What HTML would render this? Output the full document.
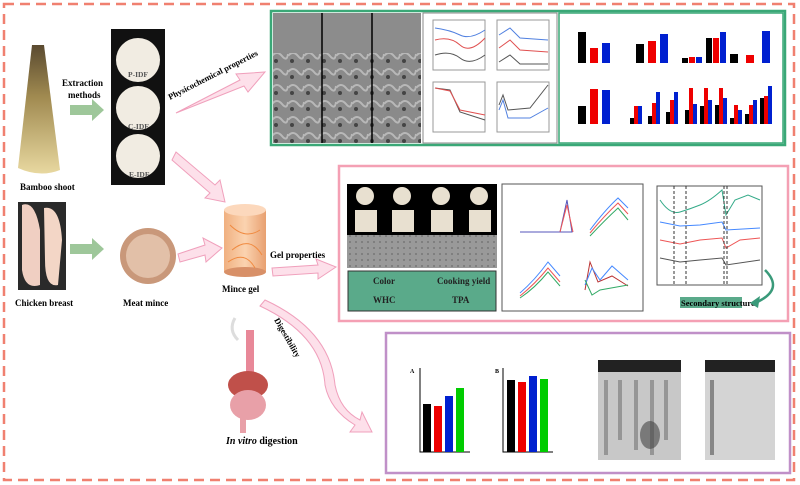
<!DOCTYPE html>
<html><head><meta charset="utf-8"><style>
html,body{margin:0;padding:0;background:#fff}
svg{display:block}
text{font-family:"Liberation Serif",serif;font-weight:bold}
</style></head><body>
<svg width="800" height="485" viewBox="0 0 800 485" xmlns="http://www.w3.org/2000/svg">
<defs>
<linearGradient id="bam" x1="0" y1="0" x2="0" y2="1"><stop offset="0" stop-color="#5a4a30"/><stop offset="0.4" stop-color="#a08a50"/><stop offset="1" stop-color="#e8d8a0"/></linearGradient>
<linearGradient id="cyl" x1="0" y1="0" x2="1" y2="0"><stop offset="0" stop-color="#f0b080"/><stop offset="0.5" stop-color="#fbd3b0"/><stop offset="1" stop-color="#e8a070"/></linearGradient>
<pattern id="sem" width="16" height="16" patternUnits="userSpaceOnUse"><rect width="16" height="16" fill="#8a8a8a"/><path d="M0 8 Q5 2 10 8 T16 6" stroke="#b8b8b8" stroke-width="2" fill="none"/><circle cx="4" cy="13" r="2" fill="#444"/></pattern>
<pattern id="sem2" width="6" height="6" patternUnits="userSpaceOnUse"><rect width="6" height="6" fill="#999"/><circle cx="2" cy="2" r="1" fill="#777"/></pattern>
</defs>
<rect x="4" y="4" width="790" height="476" fill="none" stroke="#f08070" stroke-width="2.5" stroke-dasharray="10,6"/>

<!-- bamboo -->
<path d="M32 45 L44 45 L60 170 Q40 178 18 168 Z" fill="url(#bam)"/>
<text x="20" y="190" font-size="9">Bamboo shoot</text>
<text x="62" y="86" font-size="9">Extraction</text>
<text x="68" y="98" font-size="9">methods</text>
<path d="M70 105 H92 V99 L104 110 L92 121 V115 H70Z" fill="#9ec79a"/>
<!-- IDF column -->
<rect x="111" y="29" width="54" height="156" fill="#111"/>
<g fill="#f1ece2"><circle cx="138" cy="60" r="22"/><circle cx="138" cy="108" r="22"/><circle cx="138" cy="156" r="22"/></g>
<g font-size="7.5" fill="#555" font-weight="normal"><text x="128" y="77">P-IDF</text><text x="128" y="129">C-IDF</text><text x="129" y="177">E-IDF</text></g>
<!-- physico arrow -->
<path d="M176 113 L240 80 L236 74 L265 72 L248 92 L244 86 Z" fill="#fde0ea" stroke="#f0a0bc"/>
<text x="170" y="100" font-size="8.5" transform="rotate(-27 170 100)">Physicochemical properties</text>
<path d="M176 152 L215 185 L220 180 L225 202 L205 198 L210 193 L172 160Z" fill="#fde0ea" stroke="#f0a0bc"/>
<!-- chicken -->
<rect x="18" y="202" width="48" height="88" fill="#2a2a2a"/>
<path d="M22 205 Q35 200 40 230 L40 285 Q25 290 22 270Z" fill="#f0cfc2"/>
<path d="M44 208 Q60 205 62 240 L58 285 Q45 288 45 260Z" fill="#f3d6c6"/>
<text x="15" y="306" font-size="9">Chicken breast</text>
<path d="M70 244 H92 V238 L104 249 L92 260 V254 H70Z" fill="#9ec79a"/>
<circle cx="148" cy="256" r="28" fill="#c9987a"/><circle cx="148" cy="256" r="22" fill="#e2c0a8"/>
<text x="123" y="306" font-size="9">Meat mince</text>
<path d="M178 254 L205 245 L203 238 L222 248 L206 262 L205 255 L180 262Z" fill="#fde0ea" stroke="#f0a0bc"/>
<!-- mince gel -->
<rect x="224" y="210" width="42" height="62" fill="url(#cyl)"/>
<ellipse cx="245" cy="210" rx="21" ry="6" fill="#fcd8bc"/>
<ellipse cx="245" cy="272" rx="21" ry="5" fill="#d89068"/>
<path d="M230 225 Q245 240 260 230 M232 250 Q250 235 262 255 M228 262 Q245 250 255 268" stroke="#f08a40" fill="none"/>
<text x="222" y="292" font-size="9">Mince gel</text>
<text x="270" y="258" font-size="9">Gel properties</text>
<path d="M272 268 L318 265 L316 259 L336 267 L318 279 L318 273 L273 276Z" fill="#fde0ea" stroke="#f0a0bc"/>
<!-- digestibility arrow -->
<path d="M265 300 Q330 330 335 385 Q340 410 360 420 L362 412 L372 432 L350 432 L355 425 Q330 410 325 385 Q322 335 260 306Z" fill="#fde0ea" stroke="#f0a0bc"/>
<text x="274" y="320" font-size="8.5" transform="rotate(60 274 320)">Digestibility</text>
<!-- digestive system -->
<path d="M235 318 Q228 330 238 340" stroke="#ddd" stroke-width="3" fill="none"/>
<rect x="246" y="330" width="8" height="45" fill="#e88898"/>
<ellipse cx="248" cy="385" rx="20" ry="14" fill="#c0504a"/>
<ellipse cx="248" cy="405" rx="18" ry="15" fill="#e8a0a8"/>
<rect x="240" y="418" width="6" height="15" fill="#e8a0a8"/>
<text x="226" y="444" font-size="10"><tspan font-style="italic">In vitro</tspan> digestion</text>

<!-- GREEN BOX -->
<rect x="271" y="11" width="514" height="134" fill="#fff" stroke="#3aa877" stroke-width="2.5"/>
<rect x="273" y="13" width="148" height="130" fill="url(#sem)"/>
<rect x="273" y="13" width="148" height="40" fill="#8c8c8c"/>
<line x1="322" y1="13" x2="322" y2="143" stroke="#000" stroke-width="1.5"/>
<line x1="372" y1="13" x2="372" y2="143" stroke="#000" stroke-width="1.5"/>
<rect x="423" y="13" width="134" height="130" fill="#fff" stroke="#888"/>
<g fill="none" stroke-width="1">
<rect x="433" y="20" width="52" height="50" stroke="#999"/><rect x="497" y="20" width="52" height="50" stroke="#999"/>
<rect x="433" y="82" width="52" height="50" stroke="#999"/><rect x="497" y="82" width="52" height="50" stroke="#999"/>
<path d="M435 28 Q450 30 460 35 T485 30" stroke="#5080e0"/><path d="M435 40 Q450 36 460 45 T485 38" stroke="#e05050"/><path d="M435 55 Q450 50 460 58 T485 55" stroke="#555"/>
<path d="M499 35 L510 28 L520 38 L548 40" stroke="#5080e0"/><path d="M499 48 L510 40 L520 50 L548 52" stroke="#e05050"/><path d="M499 62 L510 55 L520 64 L548 64" stroke="#555"/>
<path d="M435 88 L450 90 L460 112 L485 120" stroke="#555"/><path d="M435 88 L450 91 L460 110 L485 115" stroke="#e05050"/>
<path d="M499 105 L503 95 L508 110 L530 108 L548 85" stroke="#555"/><path d="M499 110 L503 100 L508 118 L530 118 L548 108" stroke="#5080e0"/>
</g>
<rect x="559" y="13" width="224" height="130" fill="#fff" stroke="#3aa877" stroke-width="1.5"/>
<g>
<rect x="578" y="32" width="8" height="31" fill="#000"/><rect x="590" y="48" width="8" height="15" fill="#e00"/><rect x="602" y="43" width="8" height="20" fill="#0020d0"/>
<rect x="636" y="44" width="8" height="19" fill="#000"/><rect x="648" y="41" width="8" height="22" fill="#e00"/><rect x="660" y="34" width="8" height="29" fill="#0020d0"/>
<rect x="682" y="58" width="6" height="5" fill="#000"/><rect x="689" y="57" width="6" height="6" fill="#e00"/><rect x="696" y="57" width="6" height="6" fill="#0020d0"/><rect x="706" y="38" width="6" height="25" fill="#000"/><rect x="713" y="38" width="6" height="25" fill="#e00"/><rect x="720" y="32" width="6" height="31" fill="#0020d0"/>
<rect x="730" y="54" width="8" height="9" fill="#000"/><rect x="746" y="55" width="8" height="8" fill="#e00"/><rect x="762" y="31" width="8" height="32" fill="#0020d0"/>
<rect x="578" y="106" width="8" height="18" fill="#000"/><rect x="590" y="89" width="8" height="35" fill="#e00"/><rect x="602" y="90" width="8" height="34" fill="#0020d0"/>
<g fill="#000"><rect x="630" y="118" width="4" height="6"/><rect x="648" y="116" width="4" height="8"/><rect x="666" y="112" width="4" height="12"/><rect x="685" y="110" width="4" height="14"/><rect x="700" y="106" width="4" height="18"/><rect x="715" y="105" width="4" height="19"/><rect x="730" y="118" width="4" height="6"/><rect x="745" y="114" width="4" height="10"/><rect x="760" y="98" width="4" height="26"/></g>
<g fill="#e00"><rect x="634" y="106" width="4" height="18"/><rect x="652" y="103" width="4" height="21"/><rect x="670" y="100" width="4" height="24"/><rect x="689" y="88" width="4" height="36"/><rect x="704" y="88" width="4" height="36"/><rect x="719" y="88" width="4" height="36"/><rect x="734" y="105" width="4" height="19"/><rect x="749" y="105" width="4" height="19"/><rect x="764" y="96" width="4" height="28"/></g>
<g fill="#0020d0"><rect x="638" y="106" width="4" height="18"/><rect x="656" y="92" width="4" height="32"/><rect x="674" y="92" width="4" height="32"/><rect x="693" y="104" width="4" height="20"/><rect x="708" y="100" width="4" height="24"/><rect x="723" y="98" width="4" height="26"/><rect x="738" y="110" width="4" height="14"/><rect x="753" y="100" width="4" height="24"/><rect x="768" y="86" width="4" height="38"/></g>
</g>

<!-- PINK BOX -->
<rect x="339" y="166" width="449" height="155" fill="#fff" stroke="#f4a0b4" stroke-width="2.5"/>
<rect x="347" y="184" width="150" height="51" fill="#000"/>
<g fill="#e8e0d0"><circle cx="365" cy="196" r="9"/><circle cx="402" cy="196" r="9"/><circle cx="441" cy="196" r="9"/><circle cx="479" cy="196" r="9"/>
<rect x="355" y="210" width="22" height="22"/><rect x="392" y="210" width="22" height="22"/><rect x="431" y="210" width="22" height="22"/><rect x="469" y="210" width="22" height="22"/></g>
<rect x="347" y="235" width="150" height="33" fill="url(#sem2)"/>
<rect x="348" y="271" width="148" height="40" fill="#5aaa8a" stroke="#333"/>
<g font-size="9" fill="#222"><text x="373" y="284">Color</text><text x="437" y="284">Cooking yield</text><text x="373" y="303">WHC</text><text x="452" y="303">TPA</text></g>
<rect x="502" y="184" width="141" height="127" fill="#fff" stroke="#555"/>
<g fill="none">
<path d="M520 232 H560 L567 200 L572 232 H560" stroke="#55b" /><path d="M560 232 L567 205 L573 232" stroke="#e55"/>
<path d="M590 230 Q605 210 618 198 L628 208" stroke="#48f"/><path d="M590 233 Q605 215 618 203 L628 214" stroke="#e55"/><path d="M590 236 Q605 220 618 208 L628 220" stroke="#3a6"/>
<path d="M520 293 Q535 280 548 262 L560 276" stroke="#48f"/><path d="M520 296 Q535 284 548 268 L560 282" stroke="#e55"/><path d="M520 298 Q535 288 548 272 L560 286" stroke="#3a6"/>
<path d="M585 290 L590 262 L598 282 L612 276 L628 286" stroke="#b33"/><path d="M585 285 L592 268 L600 280 L612 266 L628 280" stroke="#48f"/><path d="M585 280 L592 295 L600 290 L628 285" stroke="#3a6"/>
</g>
<rect x="657" y="186" width="105" height="99" fill="#fff" stroke="#555"/>
<g fill="none">
<path d="M660 200 Q670 215 680 212 T700 205 T722 190 L726 215 L735 200 L748 195 L760 200" stroke="#3a8"/>
<path d="M660 222 L680 226 L700 225 L722 222 L726 230 L760 228" stroke="#48f"/>
<path d="M660 240 L680 244 L700 240 L722 238 L726 248 L740 240 L760 238" stroke="#e55"/>
<path d="M660 258 L680 262 L700 260 L722 258 L726 265 L760 260" stroke="#555"/>
<path d="M674 186 V285 M686 186 V285 M724 186 V285 M727 186 V285" stroke="#333" stroke-dasharray="3,2"/>
</g>
<rect x="680" y="297" width="62" height="11" fill="#5aaa8a"/>
<text x="681" y="306" font-size="8.5">Secondary structure</text>
<path d="M765 270 Q785 290 755 303" stroke="#3a9a7a" stroke-width="2.5" fill="none"/><path d="M750 303 L760 296 L758 308Z" fill="#3a9a7a"/>

<!-- PURPLE BOX -->
<rect x="386" y="333" width="404" height="140" fill="#fff" stroke="#c090c8" stroke-width="2.5"/>
<g font-size="6" font-weight="normal">
<text x="410" y="373">A</text><text x="495" y="373">B</text>
<path d="M420 368 V452 H470 M503 368 V452 H553" stroke="#000" fill="none"/>
<rect x="423" y="404" width="8" height="48" fill="#000"/><rect x="434" y="406" width="8" height="46" fill="#e00"/><rect x="445" y="396" width="8" height="56" fill="#0020d0"/><rect x="456" y="388" width="8" height="64" fill="#0c0"/>
<rect x="507" y="380" width="8" height="72" fill="#000"/><rect x="518" y="382" width="8" height="70" fill="#e00"/><rect x="529" y="376" width="8" height="76" fill="#0020d0"/><rect x="540" y="379" width="8" height="73" fill="#0c0"/>
</g>
<rect x="598" y="360" width="83" height="100" fill="#c8c8c8"/>
<rect x="598" y="360" width="83" height="12" fill="#222"/>
<path d="M606 380 V455 M620 380 V440 M636 380 V450 M652 380 V455 M666 380 V440" stroke="#666" stroke-width="4" opacity="0.5"/>
<ellipse cx="650" cy="435" rx="10" ry="14" fill="#444" opacity="0.6"/>
<rect x="705" y="360" width="70" height="100" fill="#d4d4d4"/>
<rect x="705" y="360" width="70" height="12" fill="#222"/>
<path d="M712 380 V455" stroke="#555" stroke-width="4" opacity="0.6"/>
</svg>
</body></html>
